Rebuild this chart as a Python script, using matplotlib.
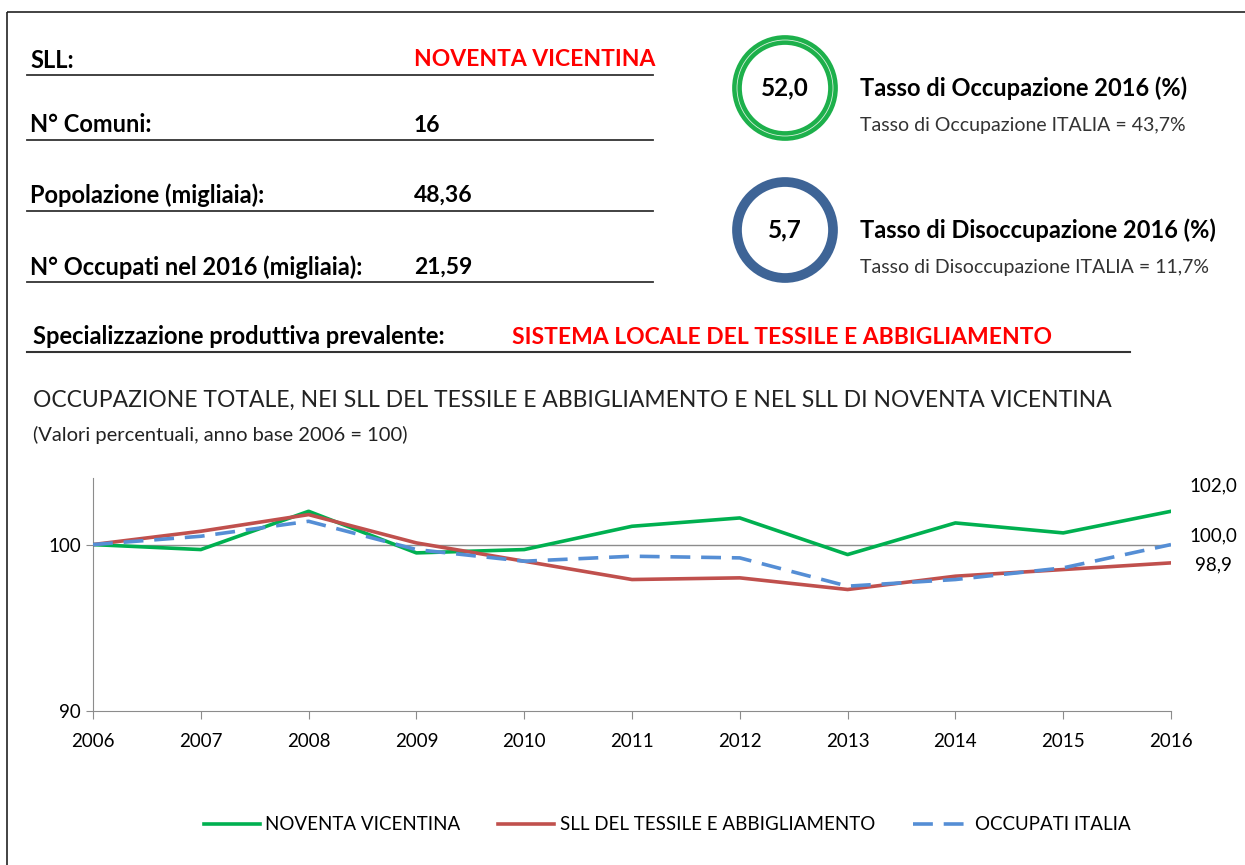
import matplotlib
matplotlib.use("Agg")
import matplotlib.pyplot as plt
from matplotlib.patches import Circle, Rectangle
from matplotlib.lines import Line2D

plt.rcParams['font.family'] = ['Lato', 'DejaVu Sans']

# ---- data ----
years = [2006, 2007, 2008, 2009, 2010, 2011, 2012, 2013, 2014, 2015, 2016]
noventa = [100.0, 99.7, 102.0, 99.5, 99.7, 101.1, 101.6, 99.4, 101.3, 100.7, 102.0]
sll_tessile = [100.0, 100.8, 101.8, 100.1, 99.0, 97.9, 98.0, 97.3, 98.1, 98.5, 98.9]
italia = [100.0, 100.5, 101.4, 99.7, 99.0, 99.3, 99.2, 97.5, 97.9, 98.6, 100.0]
series_names = ["NOVENTA VICENTINA", "SLL DEL TESSILE E ABBIGLIAMENTO", "OCCUPATI ITALIA"]
end_labels = ["102,0", "98,9", "100,0"]

info_labels = ["SLL:", "N° Comuni:", "Popolazione (migliaia):", "N° Occupati nel 2016 (migliaia):"]
info_values = ["NOVENTA VICENTINA", "16", "48,36", "21,59"]
rate_values = ["52,0", "5,7"]
rate_titles = ["Tasso di Occupazione 2016 (%)", "Tasso di Disoccupazione 2016 (%)"]
rate_subs = ["Tasso di Occupazione ITALIA = 43,7%", "Tasso di Disoccupazione ITALIA = 11,7%"]

W, H = 1245, 865
fig = plt.figure(figsize=(W / 100, H / 100), dpi=100)

# overlay axes in pixel coordinates
ov = fig.add_axes([0, 0, 1, 1])
ov.set_xlim(0, W)
ov.set_ylim(H, 0)
ov.axis('off')

# outer frame
ov.add_patch(Rectangle((7, 12), W, H, fill=False, ec='#222222', lw=1.2))

# info block
ys = [60, 125, 195, 267]
lines_y = [75, 140, 211, 282]
for lab, val, y, ly in zip(info_labels, info_values, ys, lines_y):
    ov.text(30, y, lab, fontsize=17, fontweight='bold', va='center', ha='left', color='black')
    col = '#FF0000' if val == info_values[0] else 'black'
    ov.text(414, y, val, fontsize=16.5, fontweight='bold', va='center', ha='left', color=col)
    ov.plot([27, 653], [ly, ly], color='#333333', lw=1.3)

# circles
circ_y = [88, 230]
ring_cols = ['#1DB04B', '#3E6496']
for cy, rv, rt, rs, rc in zip(circ_y, rate_values, rate_titles, rate_subs, ring_cols):
    ov.add_patch(Circle((785, cy), 48, fill=False, ec=rc, lw=7))
    if rc == ring_cols[0]:
        ov.add_patch(Circle((785, cy), 48, fill=False, ec='#D8F0DC', lw=0.6))
    ov.text(785, cy, rv, fontsize=17.5, fontweight='bold', ha='center', va='center', color='black')
    ov.text(860, cy, rt, fontsize=17, fontweight='bold', ha='left', va='center', color='black')
    ov.text(860, cy + 38, rs, fontsize=14, ha='left', va='center', color='#333333')

# specialization
ov.text(33, 337, "Specializzazione produttiva prevalente:", fontsize=17, fontweight='bold',
        va='center', ha='left', color='black')
ov.text(512, 337, "SISTEMA LOCALE DEL TESSILE E ABBIGLIAMENTO", fontsize=16.5, fontweight='bold',
        va='center', ha='left', color='#FF0000')
ov.plot([27, 1130], [352, 352], color='#333333', lw=1.5)

# chart titles
ov.text(33, 400, "OCCUPAZIONE TOTALE, NEI SLL DEL TESSILE E ABBIGLIAMENTO E NEL SLL DI NOVENTA VICENTINA",
        fontsize=16.5, va='center', ha='left', color='#222222')
ov.text(33, 435, "(Valori percentuali, anno base 2006 = 100)", fontsize=14.5, va='center',
        ha='left', color='#222222')

# chart axes
ax = fig.add_axes([93 / W, 1 - 711 / H, (1171 - 93) / W, (711 - 478) / H])
ax.patch.set_alpha(0)
cols = ['#00B050', '#C0504D', '#558ED5']
ax.axhline(100, color='#8C8C8C', lw=1.0, zorder=1)
l1, = ax.plot(years, noventa, color=cols[0], lw=2.6, zorder=3)
l2, = ax.plot(years, sll_tessile, color=cols[1], lw=2.6, zorder=3)
l3, = ax.plot(years, italia, color=cols[2], lw=2.6, ls=(0, (5.5, 3)), zorder=4)
ax.set_xlim(2006, 2016)
ax.set_ylim(90, 104)
ax.set_yticks([90, 100])
ax.set_xticks(years)
for s in ['top', 'right']:
    ax.spines[s].set_visible(False)
for s in ['left', 'bottom']:
    ax.spines[s].set_color('#8C8C8C')
ax.tick_params(axis='both', colors='#8C8C8C', labelcolor='black', labelsize=13.5, direction='out',
               length=6)
ax.tick_params(axis='x', pad=10)
ax.tick_params(axis='y', length=5)

# end labels
offs = [(42, 25), (42, -2), (42, 9)]
for vals, lab, off in zip([noventa, sll_tessile, italia], end_labels, offs):
    ax.annotate(lab, xy=(years[-1], vals[-1]), xytext=off, textcoords='offset pixels',
                ha='center', va='center', fontsize=13.5, color='black', annotation_clip=False)

# legend
fig.legend([l1, l2, l3], series_names, loc='center', bbox_to_anchor=(667 / W, 1 - 825 / H),
           ncol=3, frameon=False, fontsize=13.5, handlelength=3.0, columnspacing=2.0,
           handletextpad=0.3)

fig.savefig("out.png", dpi=100)
